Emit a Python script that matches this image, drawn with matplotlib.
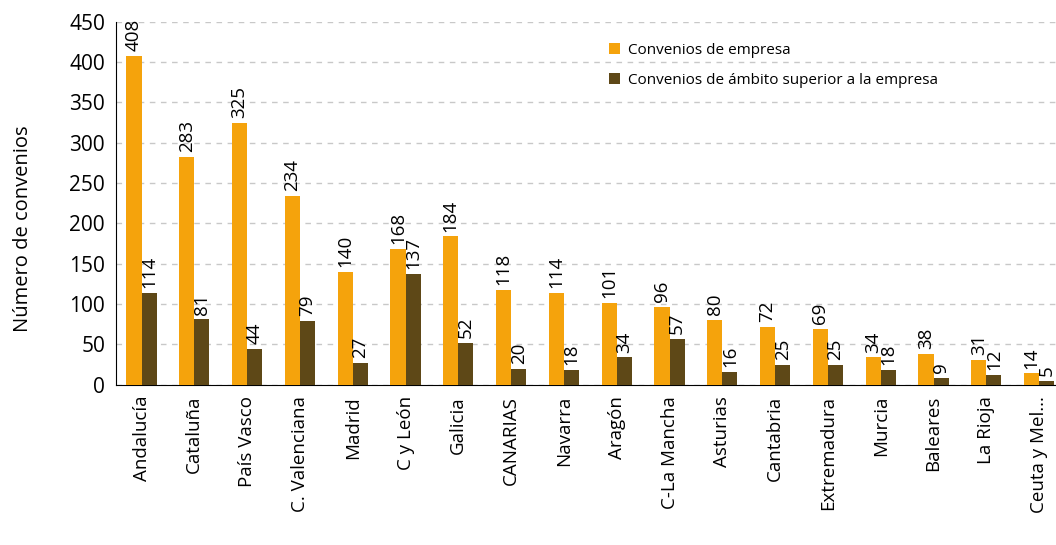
import numpy as np
import matplotlib.pyplot as plt

regiones = ["Andalucía", "Cataluña", "País Vasco", "C. Valenciana", "Madrid", "C y León",
            "Galicia", "CANARIAS", "Navarra", "Aragón", "C-La Mancha", "Asturias",
            "Cantabria", "Extremadura", "Murcia", "Baleares", "La Rioja", "Ceuta y Mel..."]
empresa = [408, 283, 325, 234, 140, 168, 184, 118, 114, 101, 96, 80, 72, 69, 34, 38, 31, 14]
superior = [114, 81, 44, 79, 27, 137, 52, 20, 18, 34, 57, 16, 25, 25, 18, 9, 12, 5]

plt.rcParams['font.family'] = ['Open Sans', 'DejaVu Sans']

fig = plt.figure(figsize=(10.56, 5.45), dpi=100)
ax = fig.add_axes([0.110, 0.294, 0.890, 0.666])

x = np.arange(len(regiones))
w = 0.285
b1 = ax.bar(x - w / 2, empresa, w, color="#F5A30C", label="Convenios de empresa", zorder=3)
b2 = ax.bar(x + w / 2, superior, w, color="#5E4817",
            label="Convenios de ámbito superior a la empresa", zorder=3)

for bars, vals in ((b1, empresa), (b2, superior)):
    for r, v in zip(bars, vals):
        ax.text(r.get_x() + r.get_width() / 2, v + 6, str(v), rotation=90,
                ha="center", va="bottom", fontsize=13.5)

ax.set_xlim(-0.48, len(regiones) - 0.68)
ax.set_ylim(0, 450)
ax.set_yticks(np.arange(0, 451, 50))
ax.tick_params(axis="y", labelsize=15, length=0, pad=8)
ax.set_xticks(x)
ax.set_xticklabels(regiones, rotation=90, fontsize=13.5)
ax.tick_params(axis="x", length=0, pad=8)
ax.set_ylabel("Número de convenios", fontsize=14.5)
ax.yaxis.set_label_coords(-0.088, 0.43)

ax.yaxis.grid(True, linestyle=(0, (4, 4)), color="#C8C8C8", linewidth=1)
ax.set_axisbelow(True)
for s in ("top", "right"):
    ax.spines[s].set_visible(False)

ax.legend(loc="upper left", bbox_to_anchor=(0.51, 0.98), frameon=False, fontsize=11,
          handlelength=0.7, handleheight=0.7, labelspacing=1.0, handletextpad=0.5)

fig.savefig("out.png", dpi=100)
